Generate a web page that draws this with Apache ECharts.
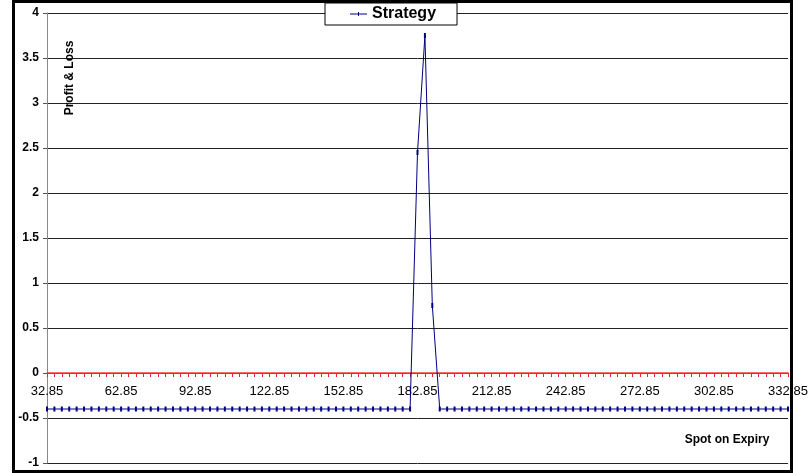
<!DOCTYPE html>
<html>
<head>
<meta charset="utf-8">
<script src="https://cdn.jsdelivr.net/npm/echarts@6/dist/echarts.min.js"></script>
<style>
  html, body { margin: 0; padding: 0; background: #fff; }
  #chart { width: 812px; height: 473px; }
</style>
</head>
<body>
<div id="chart"></div>
<script>
// Spot price at expiry (category axis)
const spotPrices = [
  '32.85','35.85','38.85','41.85','44.85','47.85','50.85','53.85','56.85','59.85',
  '62.85','65.85','68.85','71.85','74.85','77.85','80.85','83.85','86.85','89.85',
  '92.85','95.85','98.85','101.85','104.85','107.85','110.85','113.85','116.85','119.85',
  '122.85','125.85','128.85','131.85','134.85','137.85','140.85','143.85','146.85','149.85',
  '152.85','155.85','158.85','161.85','164.85','167.85','170.85','173.85','176.85','179.85',
  '182.85','185.85','188.85','191.85','194.85','197.85','200.85','203.85','206.85','209.85',
  '212.85','215.85','218.85','221.85','224.85','227.85','230.85','233.85','236.85','239.85',
  '242.85','245.85','248.85','251.85','254.85','257.85','260.85','263.85','266.85','269.85',
  '272.85','275.85','278.85','281.85','284.85','287.85','290.85','293.85','296.85','299.85',
  '302.85','305.85','308.85','311.85','314.85','317.85','320.85','323.85','326.85','329.85',
  '332.85'
];

// Profit & loss of the strategy at each spot price
const strategyPnL = [
  -0.4,-0.4,-0.4,-0.4,-0.4,-0.4,-0.4,-0.4,-0.4,-0.4,
  -0.4,-0.4,-0.4,-0.4,-0.4,-0.4,-0.4,-0.4,-0.4,-0.4,
  -0.4,-0.4,-0.4,-0.4,-0.4,-0.4,-0.4,-0.4,-0.4,-0.4,
  -0.4,-0.4,-0.4,-0.4,-0.4,-0.4,-0.4,-0.4,-0.4,-0.4,
  -0.4,-0.4,-0.4,-0.4,-0.4,-0.4,-0.4,-0.4,-0.4,-0.4,
  2.45,3.75,0.75,-0.4,-0.4,-0.4,-0.4,-0.4,-0.4,-0.4,
  -0.4,-0.4,-0.4,-0.4,-0.4,-0.4,-0.4,-0.4,-0.4,-0.4,
  -0.4,-0.4,-0.4,-0.4,-0.4,-0.4,-0.4,-0.4,-0.4,-0.4,
  -0.4,-0.4,-0.4,-0.4,-0.4,-0.4,-0.4,-0.4,-0.4,-0.4,
  -0.4,-0.4,-0.4,-0.4,-0.4,-0.4,-0.4,-0.4,-0.4,-0.4,
  -0.4
];

const seriesName = 'Strategy';
const yTitle = 'Profit & Loss';
const xTitle = 'Spot on Expiry';

const Y_MIN = -1, Y_MAX = 4;
const GRID_TOP = 13, GRID_HEIGHT = 450;
// category axis sits on the zero line of the value axis
const zeroOffset = -GRID_HEIGHT * (0 - Y_MIN) / (Y_MAX - Y_MIN);

const FONT = '"Liberation Sans", Arial, sans-serif';

const chart = echarts.init(document.getElementById('chart'), null, { renderer: 'canvas' });

chart.setOption({
  animation: false,
  backgroundColor: '#fff',
  textStyle: { fontFamily: FONT },
  grid: { left: 47, top: GRID_TOP, width: 741, height: GRID_HEIGHT, containLabel: false, outerBoundsMode: 'none' },
  legend: {
    data: [seriesName],
    left: 325,
    top: 3,
    padding: [3, 21, 3, 25],
    itemWidth: 17,
    itemHeight: 8,
    itemGap: 5,
    icon: 'path://M0,3.5H17V4.5H0Z M8,2H9V6H8Z',
    backgroundColor: '#fff',
    borderColor: '#000',
    borderWidth: 1,
    textStyle: { fontFamily: FONT, fontSize: 16, fontWeight: 'bold', color: '#000', lineHeight: 16 }
  },
  xAxis: {
    type: 'category',
    data: spotPrices,
    boundaryGap: false,
    position: 'bottom',
    offset: zeroOffset,
    axisLine: { onZero: false, lineStyle: { color: '#ff3b3b', width: 1.5 } },
    axisTick: { show: true, interval: 0, length: 4, lineStyle: { color: '#ff2020' } },
    axisLabel: { interval: 9, margin: 12, fontSize: 13, color: '#000', fontFamily: FONT },
    splitLine: { show: false }
  },
  yAxis: {
    type: 'value',
    min: Y_MIN,
    max: Y_MAX,
    interval: 0.5,
    axisLine: { show: true, lineStyle: { color: '#888', width: 1 } },
    axisTick: { show: true, length: 4, lineStyle: { color: '#555' } },
    axisLabel: { margin: 8, fontSize: 12, fontWeight: 'bold', color: '#000', fontFamily: FONT },
    splitLine: { show: true, lineStyle: { color: '#222', width: 1 } }
  },
  series: [{
    name: seriesName,
    type: 'line',
    data: strategyPnL,
    symbol: 'rect',
    symbolSize: [2, 5],
    showAllSymbol: true,
    lineStyle: { color: '#000080', width: 1 },
    itemStyle: { color: '#000080' },
    z: 5
  }],
  graphic: [
    {
      type: 'text',
      x: 70, y: 78,
      rotation: Math.PI / 2,
      style: { text: yTitle, font: 'bold 12px ' + FONT, fill: '#000', align: 'center', verticalAlign: 'middle' },
      z: 10
    },
    {
      type: 'text',
      x: 727, y: 440,
      style: { text: xTitle, font: 'bold 12px ' + FONT, fill: '#000', align: 'center', verticalAlign: 'middle' },
      z: 10
    },
    {
      type: 'rect',
      shape: { x: 13.5, y: 1.5, width: 778, height: 470 },
      style: { fill: null, stroke: '#000', lineWidth: 3 },
      silent: true,
      z: 20
    }
  ]
});
</script>
</body>
</html>
